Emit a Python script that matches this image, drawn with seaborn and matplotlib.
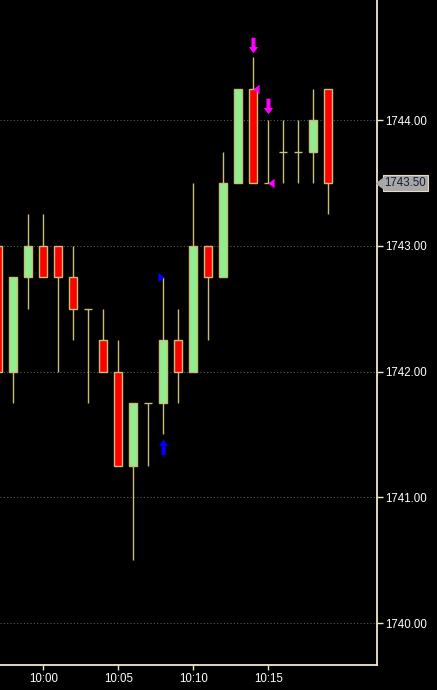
import pandas as pd
import numpy as np
import seaborn as sns
import matplotlib.pyplot as plt
from matplotlib.path import Path

# one-minute bars
times = ['09:57', '09:58', '09:59', '10:00', '10:01', '10:02', '10:03', '10:04',
         '10:05', '10:06', '10:07', '10:08', '10:09', '10:10', '10:11', '10:12',
         '10:13', '10:14', '10:15', '10:16', '10:17', '10:18', '10:19']
opens = [1743.00, 1742.00, 1742.75, 1743.00, 1743.00, 1742.75, 1742.50, 1742.25,
         1742.00, 1741.25, 1741.75, 1741.75, 1742.25, 1742.00, 1743.00, 1742.75,
         1743.50, 1744.25, 1743.50, 1743.75, 1743.75, 1743.75, 1744.25]
highs = [1743.00, 1742.75, 1743.25, 1743.25, 1743.00, 1743.00, 1742.50, 1742.50,
         1742.25, 1741.75, 1741.75, 1742.75, 1742.50, 1743.50, 1743.00, 1743.75,
         1744.25, 1744.50, 1744.00, 1744.00, 1744.00, 1744.25, 1744.25]
lows = [1742.00, 1741.75, 1742.50, 1742.75, 1742.00, 1742.25, 1741.75, 1742.00,
        1741.25, 1740.50, 1741.25, 1741.50, 1741.75, 1742.00, 1742.25, 1742.75,
        1743.50, 1743.50, 1743.50, 1743.50, 1743.50, 1743.50, 1743.25]
closes = [1742.00, 1742.75, 1743.00, 1742.75, 1742.75, 1742.50, 1742.50, 1742.00,
          1741.25, 1741.75, 1741.75, 1742.25, 1742.00, 1743.00, 1742.75, 1743.50,
          1744.25, 1743.50, 1743.50, 1743.75, 1743.75, 1744.00, 1743.50]

# signals
buy_arrow_times = ['10:08']
buy_arrow_prices = [1741.40]
sell_arrow_times = ['10:14', '10:15']
sell_arrow_prices = [1744.60, 1744.11]
buy_tri_times = ['10:08']
buy_tri_prices = [1742.75]
sell_tri_times = ['10:14', '10:15']
sell_tri_prices = [1744.25, 1743.50]

xtick_labels = ['10:00', '10:05', '10:10', '10:15']
ytick_values = [1740, 1741, 1742, 1743, 1744]


def to_min(t):
    t = pd.to_datetime(pd.Series(t), format='%H:%M')
    return ((t - pd.Timestamp('1900-01-01 10:00')).dt.total_seconds() / 60).values


df = pd.DataFrame({'t': to_min(times), 'o': opens, 'h': highs, 'l': lows, 'c': closes})
df['bottom'] = df[['o', 'c']].min(axis=1)
df['height'] = (df['c'] - df['o']).abs()
df['color'] = np.where(df['c'] > df['o'], '#90ee90', '#ff0000')

sns.set_style('dark', {'axes.facecolor': 'black', 'figure.facecolor': 'black'})
plt.rcParams['font.family'] = ['Liberation Sans', 'DejaVu Sans']

fig = plt.figure(figsize=(4.37, 6.90), dpi=100)
ax = fig.add_axes([0, 25 / 690, 377 / 437, 665 / 690])
ax.set_facecolor('black')

wick = '#c8be78'
for y in ytick_values:
    ax.axhline(y, color='#5a5a5a', lw=0.8, ls=(0, (1, 2)), zorder=0)

ax.vlines(df['t'], df['l'], df['h'], color=wick, lw=1, zorder=1)
ax.bar(df['t'], df['height'], bottom=df['bottom'], width=0.55,
       color=df['color'], edgecolor=wick, linewidth=1, zorder=2)

# arrow and triangle markers
up_arrow = Path([(-0.3, 0.1), (0, 0.5), (0.3, 0.1), (0.13, 0.1), (0.13, -0.5),
                 (-0.13, -0.5), (-0.13, 0.1), (-0.3, 0.1)], closed=True)
down_arrow = Path([(-0.3, -0.1), (0, -0.5), (0.3, -0.1), (0.13, -0.1), (0.13, 0.5),
                   (-0.13, 0.5), (-0.13, -0.1), (-0.3, -0.1)], closed=True)
right_tri = Path([(-0.33, -0.5), (0.33, 0), (-0.33, 0.5), (-0.33, -0.5)], closed=True)
left_tri = Path([(0.33, -0.5), (-0.33, 0), (0.33, 0.5), (0.33, -0.5)], closed=True)

sns.scatterplot(x=to_min(buy_arrow_times), y=buy_arrow_prices, marker=up_arrow,
                s=125, color='#0000ff', linewidth=0, ax=ax, zorder=3)
sns.scatterplot(x=to_min(sell_arrow_times), y=sell_arrow_prices, marker=down_arrow,
                s=125, color='#ff00ff', linewidth=0, ax=ax, zorder=3)
sns.scatterplot(x=to_min(buy_tri_times) - 0.17, y=buy_tri_prices, marker=right_tri,
                s=46, color='#0000ff', linewidth=0, ax=ax, zorder=3)
sns.scatterplot(x=to_min(sell_tri_times) + 0.18, y=sell_tri_prices, marker=left_tri,
                s=46, color='#ff00ff', linewidth=0, ax=ax, zorder=3)

ax.set_xlim(-2.89, 22.25)
ax.set_ylim(1739.666, 1744.955)

ax.set_xticks(to_min(xtick_labels))
ax.set_xticklabels(xtick_labels)
ax.set_yticks(ytick_values)
ax.set_yticklabels([f'{v:.2f}' for v in ytick_values])
ax.yaxis.tick_right()

spine_c = '#f5e8c8'
for s in ['left', 'top']:
    ax.spines[s].set_visible(False)
for s in ['right', 'bottom']:
    ax.spines[s].set_visible(True)
    ax.spines[s].set_color(spine_c)
    ax.spines[s].set_linewidth(1.3)
ax.tick_params(axis='y', colors=spine_c, labelcolor='white', length=4.5, width=1,
               pad=1.5, labelsize=8.3, right=True, left=False)
ax.tick_params(axis='x', colors=spine_c, labelcolor='white', length=3.5, width=1,
               pad=2, labelsize=8.3, bottom=True)
ax.grid(False)
ax.set_xlabel('')
ax.set_ylabel('')

# last price label
last = closes[-1]
ax.scatter([22.25 + 0.2], [last], marker=left_tri, s=70, color='#a8a8a8',
           clip_on=False, zorder=5)
ax.text(1.02, last, f'{last:.2f}', transform=ax.get_yaxis_transform(),
        ha='left', va='center', fontsize=8.3, color='#1a1a30',
        bbox=dict(boxstyle='square,pad=0.14', fc='#a8a8a8', ec='#e8dcc0', lw=0.8))

fig.savefig('out.png', dpi=100, facecolor='black')
